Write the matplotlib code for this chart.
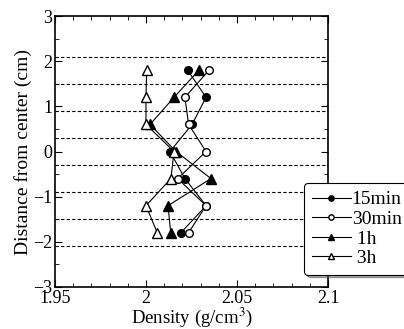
import matplotlib.pyplot as plt
from matplotlib.ticker import MultipleLocator

plt.rcParams['font.family'] = ['Liberation Serif', 'DejaVu Serif']
plt.rcParams['mathtext.fontset'] = 'stix'

depth = [1.8, 1.2, 0.6, 0.0, -0.6, -1.2, -1.8]
d_15min = [2.0229, 2.0330, 2.0253, 2.0132, 2.0214, 2.0330, 2.0192]
d_30min = [2.0346, 2.0214, 2.0234, 2.0330, 2.0174, 2.0330, 2.0234]
d_1h = [2.0290, 2.0154, 2.0022, 2.0165, 2.0357, 2.0121, 2.0136]
d_3h = [2.0004, 2.0000, 2.0000, 2.0154, 2.0137, 2.0000, 2.0062]
slice_bounds = [2.1, 1.5, 0.9, 0.3, -0.3, -0.9, -1.5, -2.1]

fig = plt.figure(figsize=(4.04, 3.29), dpi=100)
ax = fig.add_axes([0.136, 0.128, 0.676, 0.823])

for b in slice_bounds:
    ax.axhline(b, color='black', linestyle=(0, (3, 2)), linewidth=0.8, zorder=1)

ax.plot(d_15min, depth, 'k-', marker='o', mfc='black', mec='black', ms=5.5, lw=0.8, label='15min', zorder=3)
ax.plot(d_30min, depth, 'k-', marker='o', mfc='white', mec='black', ms=5.5, lw=0.8, label='30min', zorder=4)
ax.plot(d_1h, depth, 'k-', marker='^', mfc='black', mec='black', ms=6.5, lw=0.8, label=' 1h', zorder=3)
ax.plot(d_3h, depth, 'k-', marker='^', mfc='white', mec='black', ms=6.5, lw=0.8, label=' 3h', zorder=4)

ax.set_xlim(1.95, 2.1)
ax.set_ylim(-3, 3)
ax.set_xticks([1.95, 2.0, 2.05, 2.1])
ax.set_xticklabels(['1.95', '2', '2.05', '2.1'])
ax.xaxis.set_minor_locator(MultipleLocator(0.01))
ax.yaxis.set_major_locator(MultipleLocator(1))
ax.yaxis.set_minor_locator(MultipleLocator(0.5))
ax.tick_params(which='both', direction='in', top=True, right=True, labelsize=13, pad=2)
ax.tick_params(which='major', length=5)
ax.tick_params(which='minor', length=3)
for s in ax.spines.values():
    s.set_linewidth(1.2)

ax.set_xlabel('Density (g/cm$^3$)', fontsize=13.5, labelpad=-1)
ax.set_ylabel('Distance from center (cm)', fontsize=14, labelpad=1)

leg = ax.legend(loc='upper left', bbox_to_anchor=(304 / 404, 1 - 183 / 329),
                bbox_transform=fig.transFigure, borderaxespad=0, fontsize=14,
                frameon=True, shadow=True, fancybox=True, markerscale=0.7,
                handlelength=2.0, handletextpad=0.05, labelspacing=0.1,
                borderpad=0.4, framealpha=1)
leg.get_frame().set_edgecolor('black')
leg.get_frame().set_linewidth(0.8)

fig.savefig('out.png', dpi=100)
